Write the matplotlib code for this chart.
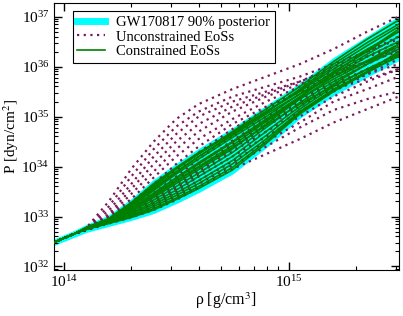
import matplotlib
matplotlib.use("Agg")
import matplotlib.pyplot as plt
import numpy as np

plt.rcParams['font.family'] = ['Liberation Serif', 'DejaVu Serif']
plt.rcParams['mathtext.fontset'] = 'stix'

# log10(rho) knots shared by all curves (crust part + core part)
crust_logrho = [13.95, 14.05]
crust_logp = [32.47, 32.66]
core_logrho = [14.1, 14.2, 14.3, 14.4, 14.5, 14.6, 14.75, 14.9, 15.05, 15.2, 15.35, 15.49]

# GW170817 90% posterior band (log10 P), on crust + core knots
band_lo = [32.44, 32.62, 32.71, 32.83, 32.95, 33.09, 33.29, 33.51, 33.88, 34.41, 35.0, 35.45, 35.82, 36.15]
band_hi = [32.51, 32.70, 32.81, 33.0, 33.32, 33.71, 34.03, 34.33, 34.74, 35.19, 35.64, 36.15, 36.58, 36.98]

# unconstrained EoSs (log10 P at core knots)
unconstrained = [
    [32.77, 33.30, 33.95, 34.50, 34.95, 35.25, 35.55, 35.80, 36.05, 36.35, 36.70, 37.00],
    [32.76, 33.20, 33.80, 34.35, 34.80, 35.10, 35.40, 35.60, 35.80, 36.05, 36.30, 36.55],
    [32.76, 33.12, 33.65, 34.20, 34.65, 35.00, 35.30, 35.50, 35.70, 35.95, 36.20, 36.40],
    [32.75, 33.05, 33.55, 34.05, 34.50, 34.85, 35.20, 35.45, 35.70, 36.00, 36.30, 36.60],
    [32.75, 33.02, 33.45, 33.90, 34.35, 34.70, 35.10, 35.40, 35.65, 35.90, 36.10, 36.30],
    [32.75, 33.00, 33.35, 33.78, 34.20, 34.55, 34.95, 35.30, 35.60, 35.85, 36.10, 36.35],
    [32.74, 32.97, 33.28, 33.65, 34.05, 34.40, 34.85, 35.20, 35.50, 35.80, 36.10, 36.40],
    [32.74, 32.95, 33.22, 33.55, 33.92, 34.28, 34.75, 35.15, 35.50, 35.85, 36.20, 36.50],
    [32.74, 32.93, 33.17, 33.47, 33.80, 34.15, 34.60, 35.00, 35.35, 35.65, 35.95, 36.20],
    [32.74, 32.92, 33.12, 33.40, 33.72, 34.05, 34.52, 34.95, 35.35, 35.70, 36.05, 36.35],
    [32.74, 32.91, 33.10, 33.35, 33.65, 33.98, 34.45, 34.90, 35.30, 35.60, 35.85, 36.05],
    [32.74, 32.90, 33.08, 33.32, 33.60, 33.92, 34.40, 34.85, 35.25, 35.55, 35.75, 35.95],
    [32.73, 32.86, 32.98, 33.13, 33.33, 33.58, 33.95, 34.25, 34.55, 34.88, 35.15, 35.40],
    [32.73, 32.87, 33.00, 33.18, 33.40, 33.65, 34.02, 34.40, 34.78, 35.13, 35.35, 35.50],
    [32.73, 32.88, 33.03, 33.22, 33.45, 33.72, 34.10, 34.50, 34.88, 35.30, 35.55, 35.80],
    [32.73, 32.88, 33.05, 33.25, 33.50, 33.80, 34.20, 34.60, 35.00, 35.40, 35.70, 35.95],
    [32.74, 32.89, 33.06, 33.28, 33.55, 33.85, 34.30, 34.70, 35.10, 35.50, 35.85, 36.15],
    [32.74, 32.90, 33.07, 33.30, 33.58, 33.90, 34.35, 34.80, 35.20, 35.60, 35.95, 36.25],
]

# constrained EoSs (log10 P at core knots)
constrained = [
    [32.78, 32.96, 33.28, 33.66, 33.98, 34.28, 34.68, 35.10, 35.50, 35.95, 36.35, 36.70],
    [32.78, 32.95, 33.25, 33.60, 33.95, 34.25, 34.70, 35.15, 35.60, 36.10, 36.55, 36.93],
    [32.77, 32.94, 33.20, 33.52, 33.85, 34.15, 34.58, 35.00, 35.45, 35.90, 36.30, 36.70],
    [32.77, 32.93, 33.17, 33.47, 33.78, 34.08, 34.50, 34.95, 35.40, 35.85, 36.25, 36.60],
    [32.76, 32.92, 33.15, 33.42, 33.72, 34.00, 34.42, 34.90, 35.35, 35.75, 36.10, 36.40],
    [32.76, 32.91, 33.12, 33.38, 33.66, 33.94, 34.35, 34.85, 35.35, 35.80, 36.20, 36.50],
    [32.76, 32.90, 33.10, 33.33, 33.60, 33.87, 34.28, 34.78, 35.28, 35.70, 36.05, 36.35],
    [32.75, 32.89, 33.07, 33.28, 33.53, 33.80, 34.20, 34.70, 35.20, 35.65, 36.05, 36.45],
    [32.75, 32.88, 33.05, 33.24, 33.47, 33.72, 34.12, 34.62, 35.15, 35.60, 35.95, 36.25],
    [32.75, 32.87, 33.02, 33.20, 33.42, 33.66, 34.05, 34.55, 35.10, 35.55, 35.90, 36.20],
    [32.74, 32.87, 33.00, 33.16, 33.37, 33.60, 33.98, 34.50, 35.08, 35.52, 35.90, 36.30],
    [32.74, 32.86, 32.98, 33.13, 33.34, 33.56, 33.93, 34.46, 35.05, 35.50, 35.88, 36.22],
    [32.76, 32.91, 33.13, 33.40, 33.70, 33.98, 34.38, 34.82, 35.25, 35.62, 35.95, 36.25],
    [32.77, 32.94, 33.22, 33.55, 33.88, 34.20, 34.62, 35.05, 35.45, 35.80, 36.12, 36.45],
    [32.78, 32.95, 33.26, 33.63, 33.96, 34.26, 34.66, 35.08, 35.55, 36.05, 36.48, 36.85],
    [32.77, 32.94, 33.22, 33.57, 33.90, 34.20, 34.64, 35.10, 35.52, 36.00, 36.42, 36.80],
    [32.76, 32.92, 33.16, 33.45, 33.76, 34.05, 34.48, 34.92, 35.38, 35.88, 36.32, 36.75],
]

cyan = '#00ffff'
maroon = '#7b1a5e'
green = '#008000'

fig = plt.figure(figsize=(4.03, 3.16), dpi=100)
ax = fig.add_axes([53.5 / 403, 46 / 316, 345.5 / 403, 267.3 / 316])

full_rho = 10.0 ** np.array(crust_logrho + core_logrho)
ax.fill_between(full_rho, 10.0 ** np.array(band_lo), 10.0 ** np.array(band_hi),
                color=cyan, lw=2, zorder=1)

for i, lp in enumerate(unconstrained):
    ax.plot(full_rho, 10.0 ** np.array(crust_logp + lp), color=maroon, lw=1.6,
            linestyle=(0, (1, 2)), zorder=2,
            label='Unconstrained EoSs' if i == 0 else None)

for i, lp in enumerate(constrained):
    ax.plot(full_rho, 10.0 ** np.array(crust_logp + lp), color=green, lw=1.2, zorder=3,
            label='Constrained EoSs' if i == 0 else None)

# legend entry for the band
ax.plot([], [], color=cyan, lw=5, label='GW170817 90% posterior')

ax.set_xscale('log')
ax.set_yscale('log')
ax.set_xlim(9e13, 3.1e15)
ax.set_ylim(8.5e31, 1.9e37)

ax.tick_params(which='both', direction='in', top=True, right=True, labelsize=11, pad=3)
ax.tick_params(which='major', length=6, width=1)
ax.tick_params(which='minor', length=3, width=0.8)
ax.yaxis.set_major_locator(matplotlib.ticker.LogLocator(base=10, numticks=20))
ax.yaxis.set_minor_locator(matplotlib.ticker.LogLocator(base=10, subs=np.arange(2, 10), numticks=20))

ax.set_xlabel('ρ [g/cm$^3$]', fontsize=11.5)
ax.set_ylabel('P [dyn/cm$^2$]', fontsize=11)
ax.yaxis.set_label_coords(-0.095, 0.5)
ax.xaxis.set_label_coords(0.5, -0.075)

h, l = ax.get_legend_handles_labels()
order = [l.index('GW170817 90% posterior'), l.index('Unconstrained EoSs'), l.index('Constrained EoSs')]
leg = ax.legend([h[k] for k in order], [l[k] for k in order], loc='upper left',
                bbox_to_anchor=(0.055, 0.968), fontsize=10.5, fancybox=False,
                framealpha=1, edgecolor='black', handlelength=1.9,
                borderpad=0.3, labelspacing=0.1, borderaxespad=0)
leg.get_frame().set_linewidth(0.8)

fig.savefig('out.png', dpi=100)
